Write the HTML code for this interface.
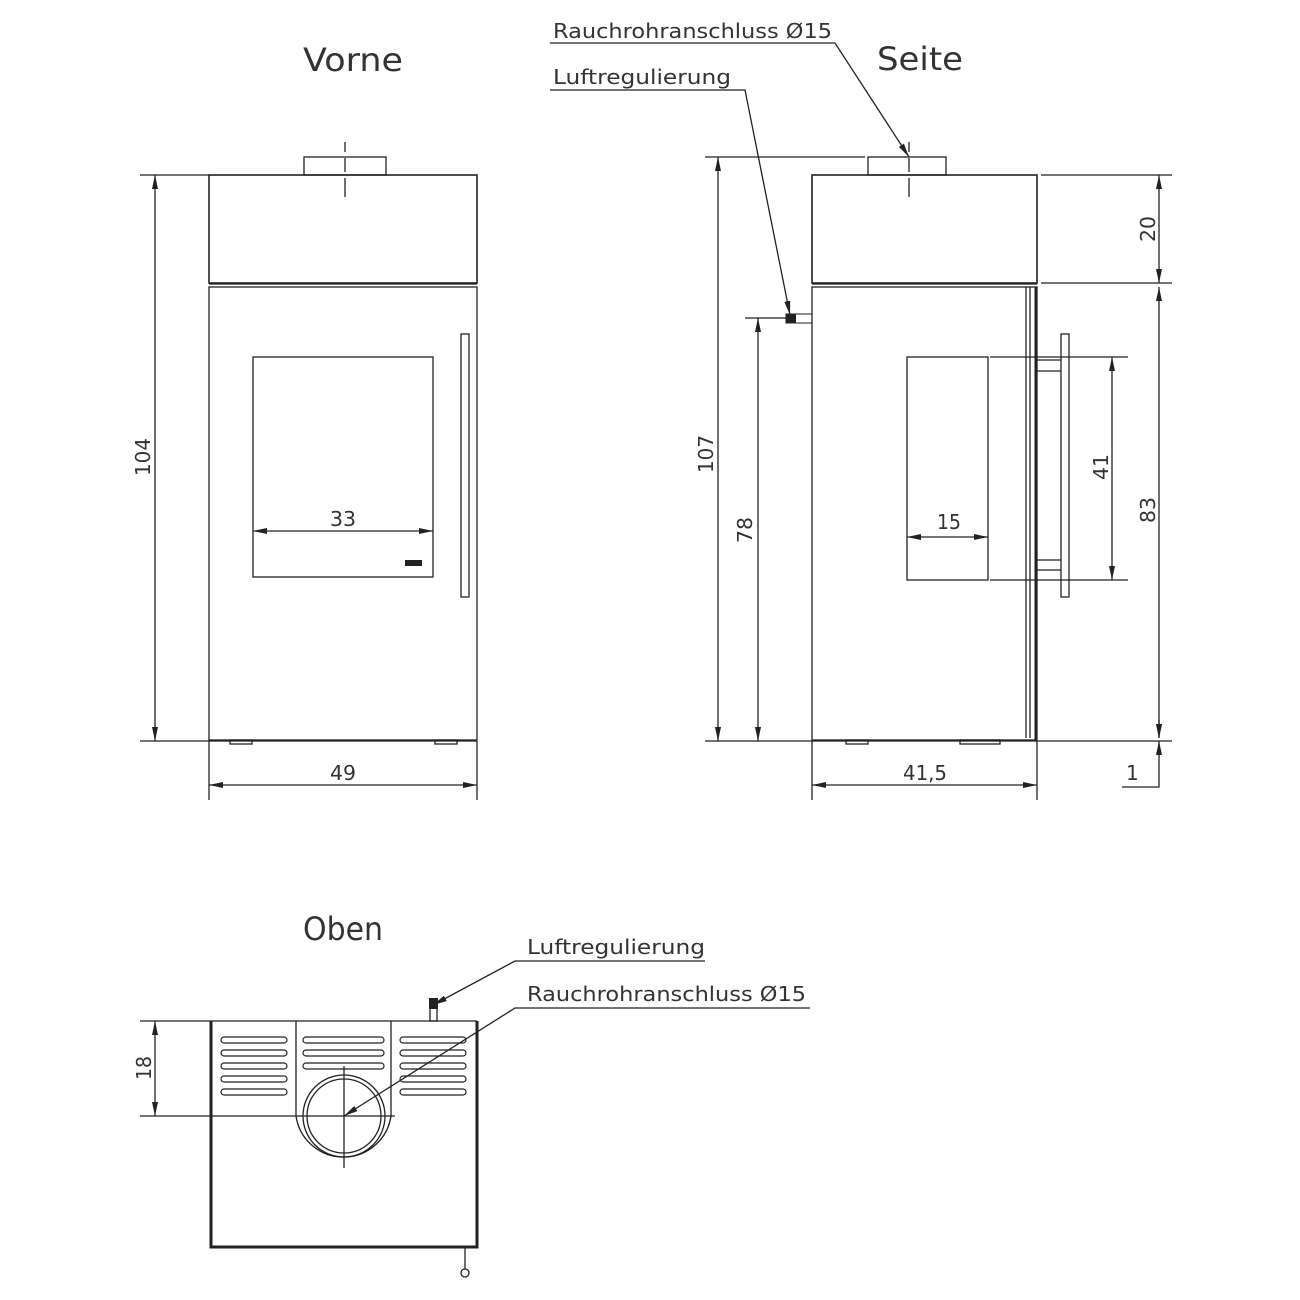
<!DOCTYPE html>
<html><head><meta charset="utf-8"><style>html,body{margin:0;padding:0;background:#fff}svg{display:block}</style></head>
<body>
<svg width="1300" height="1300" viewBox="0 0 1300 1300" xmlns="http://www.w3.org/2000/svg" font-family="'DejaVu Sans','Liberation Sans',sans-serif" fill="none" stroke="#222" stroke-width="1.3">
<defs>
<marker id="a" viewBox="0 0 14 6" refX="14" refY="3" markerWidth="14" markerHeight="6" orient="auto-start-reverse" markerUnits="userSpaceOnUse"><path d="M0,0 L14,3 L0,6 z" fill="#222" stroke="none"/></marker>
</defs>
<g fill="#333" stroke="none" font-size="32">
<text x="303" y="71" textLength="100" lengthAdjust="spacingAndGlyphs">Vorne</text>
<text x="877" y="70" textLength="86" lengthAdjust="spacingAndGlyphs">Seite</text>
<text x="303" y="940" textLength="80" lengthAdjust="spacingAndGlyphs">Oben</text>
</g>
<g fill="#333" stroke="none" font-size="20">
<text x="553" y="38" textLength="279" lengthAdjust="spacingAndGlyphs">Rauchrohranschluss Ø15</text>
<text x="553" y="84" textLength="178" lengthAdjust="spacingAndGlyphs">Luftregulierung</text>
<text x="527" y="954" textLength="178" lengthAdjust="spacingAndGlyphs">Luftregulierung</text>
<text x="527" y="1001" textLength="279" lengthAdjust="spacingAndGlyphs">Rauchrohranschluss Ø15</text>
<text x="330" y="526" textLength="26" lengthAdjust="spacingAndGlyphs">33</text>
<text x="330" y="780" textLength="26" lengthAdjust="spacingAndGlyphs">49</text>
<text x="903" y="780" textLength="44" lengthAdjust="spacingAndGlyphs">41,5</text>
<text x="937" y="529" textLength="24" lengthAdjust="spacingAndGlyphs">15</text>
<text x="1126" y="780">1</text>
<text transform="translate(150,476) rotate(-90)" textLength="38" lengthAdjust="spacingAndGlyphs">104</text>
<text transform="translate(713,473) rotate(-90)" textLength="38" lengthAdjust="spacingAndGlyphs">107</text>
<text transform="translate(752,543) rotate(-90)" textLength="26" lengthAdjust="spacingAndGlyphs">78</text>
<text transform="translate(1155,242) rotate(-90)" textLength="26" lengthAdjust="spacingAndGlyphs">20</text>
<text transform="translate(1108,480) rotate(-90)" textLength="26" lengthAdjust="spacingAndGlyphs">41</text>
<text transform="translate(1155,523) rotate(-90)" textLength="26" lengthAdjust="spacingAndGlyphs">83</text>
<text transform="translate(151,1080) rotate(-90)" textLength="24" lengthAdjust="spacingAndGlyphs">18</text>
</g>
<!-- label leaders -->
<path d="M550,43 H835 L909,157" marker-end="url(#a)"/>
<path d="M550,90 H745 L790,315" marker-end="url(#a)"/>
<path d="M705,961 H515 L433,1005" marker-end="url(#a)"/>
<path d="M810,1008 H515 L344,1116" marker-end="url(#a)"/>

<!-- FRONT -->
<rect x="209" y="175" width="268" height="108" stroke-width="1.6"/>
<rect x="209" y="287" width="268" height="453"/>
<line x1="209" y1="284" x2="477" y2="284"/>
<rect x="304" y="157" width="82" height="18"/>
<path d="M345,142 V152 M345,158 V172 M345,178 V197"/>
<rect x="253" y="357" width="180" height="220"/>
<rect x="461" y="334" width="8" height="263"/>
<rect x="405" y="560" width="17" height="6" fill="#222" stroke="none"/>
<rect x="230" y="740" width="22" height="4"/><rect x="435" y="740" width="22" height="4"/>
<line x1="140" y1="175" x2="209" y2="175"/>
<line x1="140" y1="741" x2="477" y2="741"/>
<line x1="155" y1="175" x2="155" y2="741" marker-start="url(#a)" marker-end="url(#a)"/>
<line x1="209" y1="741" x2="209" y2="800"/><line x1="477" y1="741" x2="477" y2="800"/>
<line x1="209" y1="785" x2="477" y2="785" marker-start="url(#a)" marker-end="url(#a)"/>
<line x1="253" y1="531" x2="433" y2="531" marker-start="url(#a)" marker-end="url(#a)"/>

<!-- SIDE -->
<rect x="812" y="175" width="225" height="108" stroke-width="1.6"/>
<rect x="812" y="287" width="225" height="453"/>
<line x1="812" y1="284" x2="1037" y2="284"/>
<rect x="868" y="157" width="78" height="18"/>
<path d="M909,142 V152 M909,158 V172 M909,178 V197"/>
<line x1="1026" y1="287" x2="1026" y2="738"/><line x1="1030" y1="287" x2="1030" y2="738"/>
<line x1="1036" y1="287" x2="1036" y2="740" stroke-width="3"/>
<rect x="1061" y="334" width="8" height="263"/>
<path d="M1037,360 H1061 M1037,371 H1061 M1037,560 H1061 M1037,570 H1061"/>
<rect x="907" y="357" width="81" height="223"/>
<rect x="786" y="314" width="26" height="9" stroke-width="1"/>
<rect x="786" y="314" width="10" height="9" fill="#222" stroke="none"/>
<rect x="846" y="740" width="22" height="4"/><rect x="960" y="740" width="40" height="4"/>
<line x1="705" y1="157" x2="865" y2="157"/>
<line x1="705" y1="741" x2="1172" y2="741"/>
<line x1="718" y1="157" x2="718" y2="741" marker-start="url(#a)" marker-end="url(#a)"/>
<line x1="745" y1="318" x2="790" y2="318"/>
<line x1="758" y1="318" x2="758" y2="741" marker-start="url(#a)" marker-end="url(#a)"/>
<line x1="1041" y1="175" x2="1172" y2="175"/><line x1="1041" y1="283" x2="1172" y2="283"/>
<line x1="1159" y1="175" x2="1159" y2="283" marker-start="url(#a)" marker-end="url(#a)"/>
<line x1="1159" y1="287" x2="1159" y2="738" marker-start="url(#a)" marker-end="url(#a)"/>
<line x1="990" y1="357" x2="1128" y2="357"/><line x1="990" y1="580" x2="1128" y2="580"/>
<line x1="1112" y1="357" x2="1112" y2="580" marker-start="url(#a)" marker-end="url(#a)"/>
<line x1="907" y1="537" x2="988" y2="537" marker-start="url(#a)" marker-end="url(#a)"/>
<line x1="812" y1="741" x2="812" y2="800"/><line x1="1037" y1="741" x2="1037" y2="800"/>
<line x1="812" y1="785" x2="1037" y2="785" marker-start="url(#a)" marker-end="url(#a)"/>
<line x1="1159" y1="720" x2="1159" y2="738" marker-end="url(#a)"/>
<path d="M1122,787 H1159 V741" marker-end="url(#a)"/>

<!-- TOP -->
<line x1="140" y1="1021" x2="477" y2="1021"/>
<path d="M211,1021 V1247 H477 V1021" stroke-width="3"/>
<path d="M296,1021 V1116 A48,48 0 0 0 391,1116 V1021"/>
<circle cx="344" cy="1116" r="41"/><circle cx="344" cy="1116" r="37"/>
<g stroke-width="1.2">
<rect x="221" y="1037" width="66" height="6" rx="3"/><rect x="221" y="1050" width="66" height="6" rx="3"/><rect x="221" y="1063" width="66" height="6" rx="3"/><rect x="221" y="1076" width="66" height="6" rx="3"/><rect x="221" y="1089" width="66" height="6" rx="3"/>
<rect x="303" y="1037" width="81" height="6" rx="3"/><rect x="303" y="1050" width="81" height="6" rx="3"/><rect x="303" y="1063" width="81" height="6" rx="3"/>
<rect x="400" y="1037" width="66" height="6" rx="3"/><rect x="400" y="1050" width="66" height="6" rx="3"/><rect x="400" y="1063" width="66" height="6" rx="3"/><rect x="400" y="1076" width="66" height="6" rx="3"/><rect x="400" y="1089" width="66" height="6" rx="3"/>
</g>
<line x1="140" y1="1116" x2="395" y2="1116"/>
<line x1="344" y1="1066" x2="344" y2="1168"/>
<line x1="155" y1="1021" x2="155" y2="1116" marker-start="url(#a)" marker-end="url(#a)"/>
<rect x="430" y="1008" width="7" height="13"/>
<rect x="429" y="998" width="9" height="11" fill="#222" stroke="none"/>
<line x1="465" y1="1247" x2="465" y2="1269"/>
<circle cx="465" cy="1273" r="4"/>
</svg>
</body></html>
